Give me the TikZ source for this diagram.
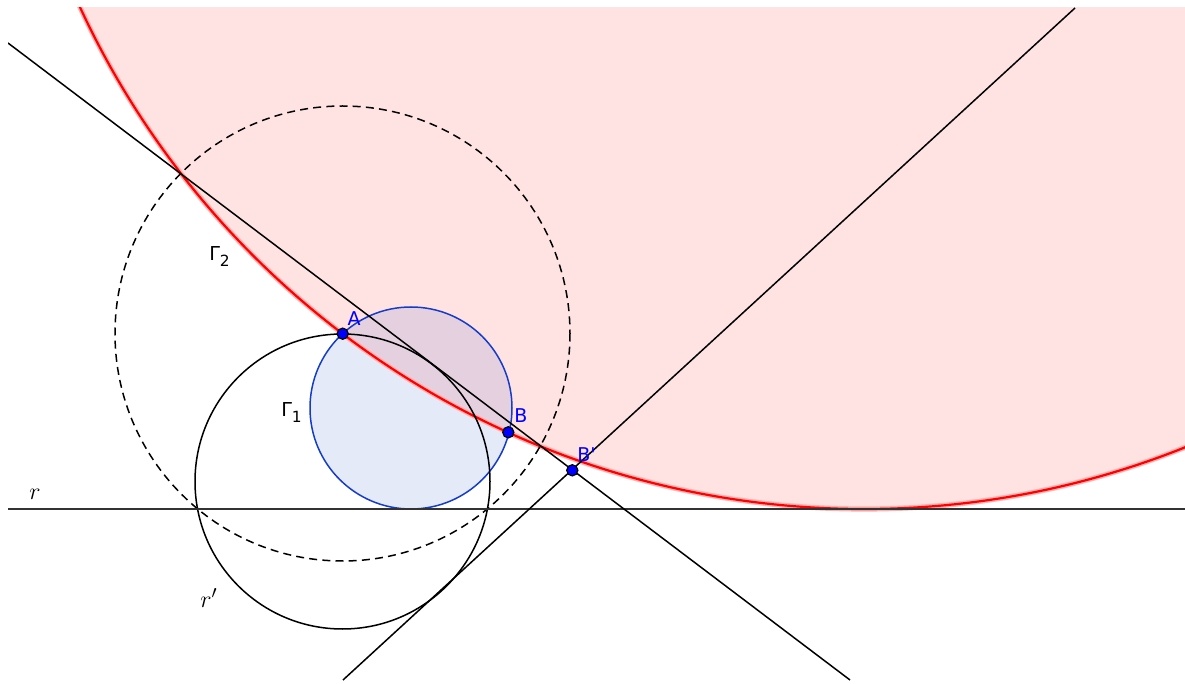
\documentclass[tikz,border=0pt]{standalone}
\usepackage{fontspec}
\newfontfamily\gsans{DejaVu Sans}
\definecolor{ptblue}{RGB}{0,0,255}
\definecolor{cblue}{RGB}{20,60,200}
\definecolor{lgray}{RGB}{51,51,51}
\begin{document}
\begin{tikzpicture}[x=0.5pt,y=-0.5pt,
  thinl/.style={draw=black,line width=0.75pt},
  pt/.style={circle,fill=ptblue,draw=black,line width=0.6pt,inner sep=0pt,minimum size=5.6pt},
  lab/.style={text=ptblue,font=\fontsize{9.5}{11}\gsans,inner sep=0pt},
  glab/.style={text=black,font=\fontsize{9.6}{11}\gsans,inner sep=0pt},
  mlab/.style={text=black,font=\fontsize{12.5}{14}\selectfont,inner sep=0pt}]
\useasboundingbox (0,0) rectangle (1185,684);
\coordinate (Ored) at (864,-354);
\coordinate (Oblue) at (411,408);
\coordinate (Og1) at (342.5,481.5);
\coordinate (Og2) at (342.5,333.5);
\coordinate (r1) at (8,509);
\coordinate (r2) at (1185,509);
\coordinate (l1a) at (8,43);
\coordinate (l1b) at (850,680);
\coordinate (l2a) at (343,680);
\coordinate (l2b) at (1075,8);
\begin{scope}
\clip (8,8) rectangle (1185,680);
% red circle fill
\fill[red,fill opacity=0.11] (Ored) circle[radius=863];
% blue circle fill
\fill[cblue,fill opacity=0.11] (Oblue) circle[radius=101];
% red circle stroke with halo
\draw[red!30,line width=2.6pt] (Ored) circle[radius=863];
\draw[red,line width=1.1pt] (Ored) circle[radius=863];
% blue circle stroke
\draw[cblue,line width=0.75pt] (Oblue) circle[radius=101];
% Gamma 2 dashed
\draw[thinl,dash pattern=on 4pt off 2.6pt] (Og2) circle[radius=227.5];
% Gamma 1
\draw[thinl] (Og1) circle[radius=147.5];
% lines
\draw[draw=lgray,line width=1pt] (r1) -- (r2);
\draw[thinl] (l1a) -- (l1b);
\draw[thinl] (l2a) -- (l2b);
\end{scope}
% points
\node[pt] (A) at (342.7,333.7) {};
\node[pt] (B) at (508.3,432.3) {};
\node[pt] (Bp) at (572.3,470.3) {};
% labels
\node[lab] (lA) at (354,318.5) {A};
\node[lab] (lB) at (521,416) {B};
\node[lab] (lBp) at (586.5,455) {B'};
\node[glab] (lG2) at (219.5,256.5) {Γ\raisebox{-2.6pt}{\fontsize{7.7}{9}\selectfont 2}};
\node[glab] (lG1) at (291.5,412.5) {Γ\raisebox{-2.6pt}{\fontsize{7.7}{9}\selectfont 1}};
\node[mlab] (lr) at (35,494) {$r$};
\node[mlab] (lrp) at (209,598) {$r'$};
\end{tikzpicture}
\end{document}
